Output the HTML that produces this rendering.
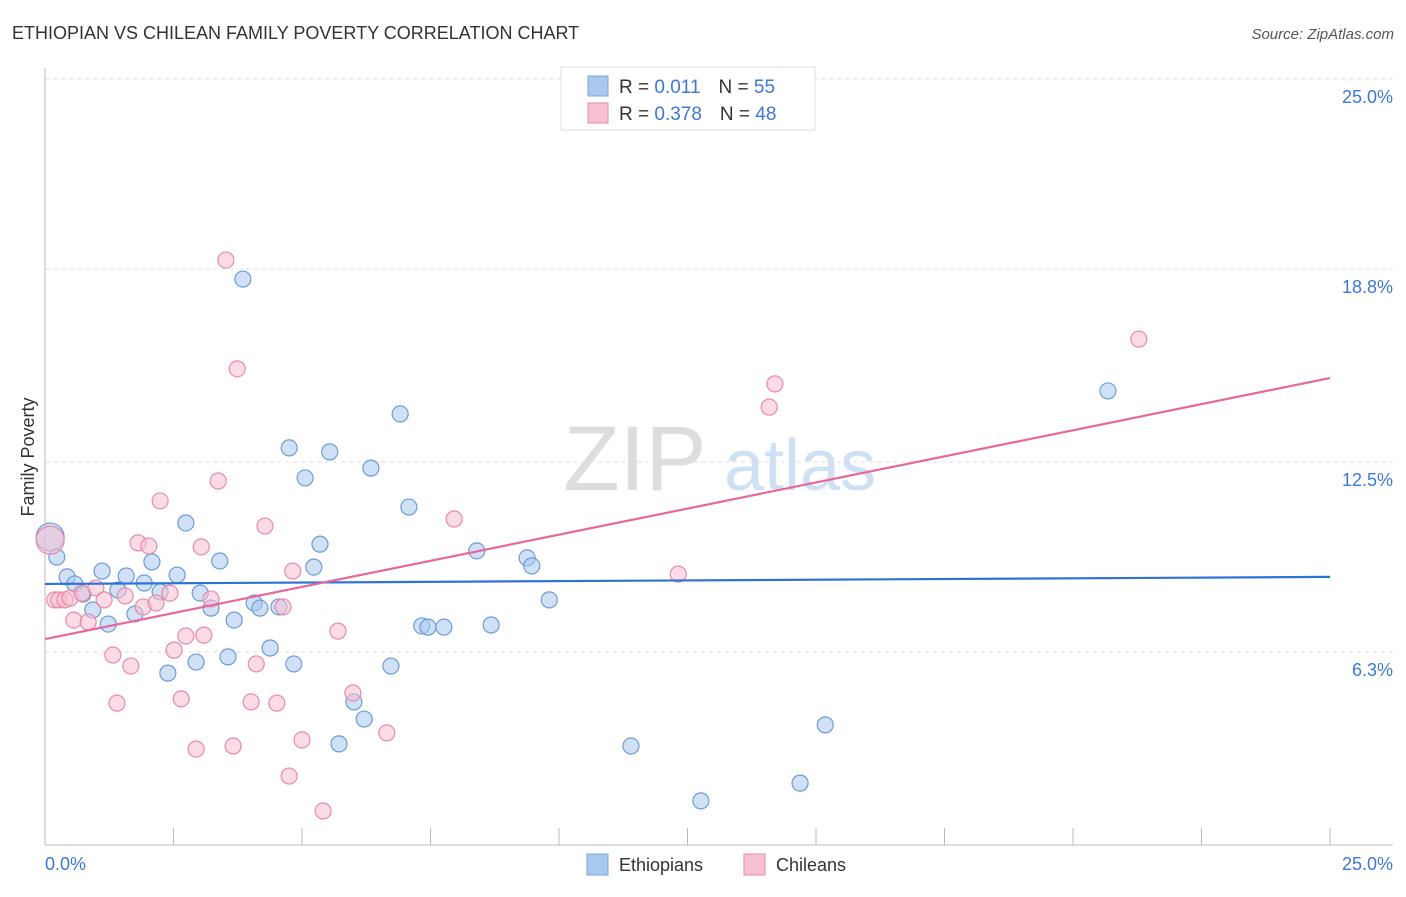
<!DOCTYPE html>
<html><head><meta charset="utf-8"><style>
body{margin:0;background:#fff;font-family:"Liberation Sans",sans-serif}
svg text{font-family:"Liberation Sans",sans-serif}
</style></head><body>
<svg id="c" width="1406" height="892">
<text x="12" y="39" font-size="18" fill="#333">ETHIOPIAN VS CHILEAN FAMILY POVERTY CORRELATION CHART</text>
<text x="1394" y="39" font-size="15" fill="#555" font-style="italic" text-anchor="end">Source: ZipAtlas.com</text>
<g>
<text x="635" y="490" font-size="92" fill="#ddd" font-family="Liberation Serif" text-anchor="middle">ZIP</text>
<text x="800" y="490" font-size="72" fill="#cfe0f5" text-anchor="middle">atlas</text>
</g>
<g id="grid"></g><g id="axes"></g><g id="pts"></g><g id="lines"></g>
<text transform="translate(34,457) rotate(-90)" font-size="18" fill="#333" text-anchor="middle">Family Poverty</text>
<text x="45" y="870" font-size="18" fill="#3b78d8">0.0%</text>
<text x="1393" y="870" font-size="18" fill="#3b78d8" text-anchor="end">25.0%</text>
<g>
<rect x="561" y="67" width="254" height="63" fill="#fff" stroke="#ddd"/>
<rect x="588" y="76" width="20" height="20" fill="#a9c8ee" stroke="#7aa6e0"/>
<rect x="588" y="103" width="20" height="20" fill="#f7c0d1" stroke="#e88aa8"/>
<text x="619" y="93" font-size="19" fill="#333">R = <tspan fill="#3b78d8">0.011</tspan><tspan dx="18">N = </tspan><tspan fill="#3b78d8">55</tspan></text>
<text x="619" y="120" font-size="19" fill="#333">R = <tspan fill="#3b78d8">0.378</tspan><tspan dx="18">N = </tspan><tspan fill="#3b78d8">48</tspan></text>
</g>
<g>
<rect x="587" y="854" width="21" height="21" fill="#a9c8ee" stroke="#7aa6e0"/>
<text x="619" y="871" font-size="18" fill="#333">Ethiopians</text>
<rect x="744" y="854" width="21" height="21" fill="#f7c0d1" stroke="#e88aa8"/>
<text x="776" y="871" font-size="18" fill="#333">Chileans</text>
</g>
</svg>
<script>
const yTicks=[6.3,12.5,18.8,25.0];
const blueX=[0.1,0.23,0.43,0.58,0.74,0.93,1.11,1.23,1.42,1.58,1.75,1.93,2.08,2.24,2.39,2.57,2.74,2.94,3.02,3.23,3.4,3.56,3.68,3.85,4.07,4.18,4.38,4.55,4.75,4.84,5.06,5.23,5.35,5.54,5.72,6.01,6.21,6.34,6.73,6.91,7.08,7.33,7.45,7.76,8.4,8.68,9.38,9.47,9.81,11.4,12.76,14.69,15.18,20.68,11.69];
const blueY=[10.05,9.4,8.75,8.52,8.19,7.67,8.94,7.21,8.32,8.78,7.54,8.55,9.24,8.26,5.61,8.81,10.51,5.97,8.22,7.73,9.27,6.14,7.34,18.47,7.9,7.73,6.43,7.77,12.96,5.91,11.98,9.07,9.82,12.83,3.3,4.67,4.11,12.3,5.84,14.07,11.03,7.15,7.11,7.11,9.6,7.18,9.37,9.11,8.0,3.23,1.44,2.02,3.92,14.82,24.84];
const pinkX=[0.1,0.19,0.27,0.39,0.49,0.56,0.72,0.84,0.99,1.15,1.32,1.4,1.56,1.67,1.81,1.91,2.02,2.16,2.24,2.43,2.51,2.65,2.74,2.94,3.04,3.09,3.23,3.37,3.52,3.66,3.74,4.01,4.11,4.28,4.51,4.63,4.75,4.82,5.0,5.41,5.7,5.99,6.65,7.96,12.32,14.09,14.2,21.28];
const pinkY=[9.95,8.0,8.0,8.0,8.06,7.34,8.22,7.28,8.39,8.0,6.2,4.63,8.13,5.84,9.86,7.77,9.76,7.9,11.23,8.22,6.36,4.77,6.82,3.13,9.73,6.85,8.03,11.88,19.09,3.23,15.54,4.67,5.91,10.41,4.63,7.77,2.25,8.94,3.43,1.11,6.98,4.96,3.66,10.64,8.84,14.29,15.05,16.51];
const blueTrend=[8.52,8.75];
const pinkTrend=[6.72,15.24];
const NS='http://www.w3.org/2000/svg';
const X=v=>45+v*51.4, Y=v=>845-v*30.64;
function mk(p,t,a){const e=document.createElementNS(NS,t);for(const k in a)e.setAttribute(k,a[k]);document.getElementById(p).appendChild(e);return e;}
yTicks.forEach(t=>{
 const g=mk('grid','line',{x1:45,x2:1393,y1:Y(t),y2:Y(t),stroke:'#ddd','stroke-dasharray':'4,4'});
 
 
 const l=mk('grid','text',{x:1393,y:Y(t)+24,'font-size':18,fill:'#3b78d8','text-anchor':'end'});
 l.textContent=t.toFixed(1)+'%';
 
 
});
mk('axes','line',{x1:45,x2:45,y1:68,y2:845,stroke:'#bbb'});
mk('axes','line',{x1:45,x2:1393,y1:845,y2:845,stroke:'#bbb'});
for(let i=0;i<=10;i++){const t=mk('axes','line',{x1:X(i*2.5),x2:X(i*2.5),y1:828,y2:845,stroke:'#bbb'});
 
 }
function pts(xs,ys,fill,stroke,name){xs.forEach((x,i)=>{
 const c=mk('pts','circle',{cx:X(x),cy:Y(ys[i]),r:i==0?14:8,fill:fill,'fill-opacity':0.55,stroke:stroke,'stroke-width':1.2});
 
 });}
pts(blueX,blueY,'#a9c8ee','#6d9bd8','ethiopians-point');
pts(pinkX,pinkY,'#f7c0d1','#e88aa8','chileans-point');
const b=mk('lines','line',{x1:X(0),x2:X(25),y1:Y(blueTrend[0]),y2:Y(blueTrend[1]),stroke:'#2f72d6','stroke-width':2.2});


const p=mk('lines','line',{x1:X(0),x2:X(25),y1:Y(pinkTrend[0]),y2:Y(pinkTrend[1]),stroke:'#e8679a','stroke-width':2.2});


</script>
</body></html>
